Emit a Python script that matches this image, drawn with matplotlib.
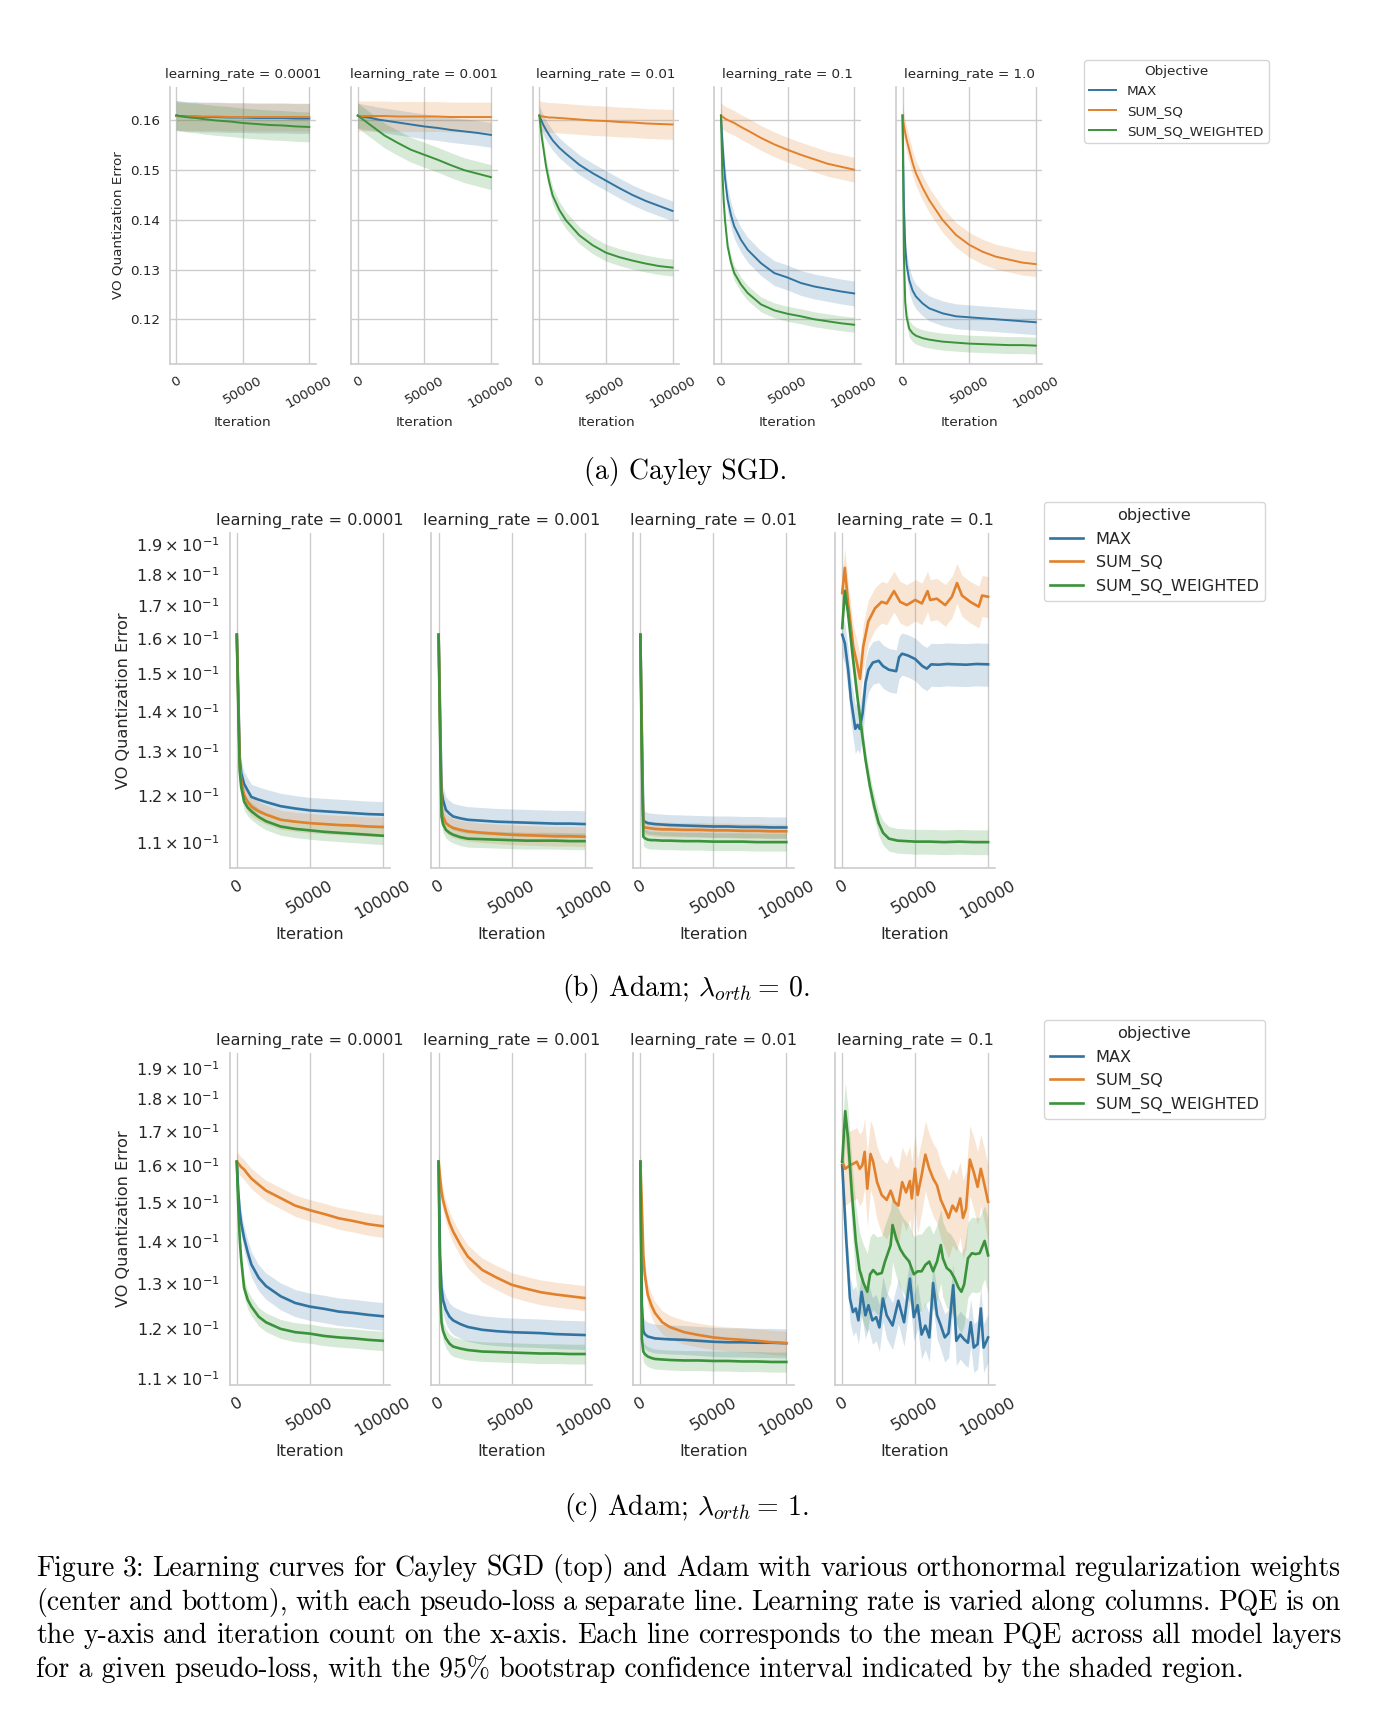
import matplotlib
matplotlib.use("Agg")
import matplotlib.pyplot as plt
from matplotlib.lines import Line2D
import numpy as np

ITERS = [0, 1000, 2000, 3000, 5000, 7500, 10000, 15000, 20000, 30000,
         40000, 50000, 60000, 70000, 80000, 90000, 100000]

OBJECTIVES = ['MAX', 'SUM_SQ', 'SUM_SQ_WEIGHTED']
COLORS = ['#3274a1', '#e1812c', '#3a923a']
LR_SGD = ['0.0001', '0.001', '0.01', '0.1', '1.0']
LR_ADAM = ['0.0001', '0.001', '0.01', '0.1']
X_TICKS = [0, 50000, 100000]

# ---- (a) Cayley SGD ----
SGD_LR1E4_MAX = [0.1610, 0.1610, 0.1609, 0.1609, 0.1609, 0.1608, 0.1608, 0.1608, 0.1607, 0.1607, 0.1606, 0.1606, 0.1605, 0.1605, 0.1605, 0.1604, 0.1604]
SGD_LR1E4_SQ = [0.1609, 0.1609, 0.1608, 0.1608, 0.1608, 0.1608, 0.1608, 0.1608, 0.1608, 0.1608, 0.1607, 0.1607, 0.1607, 0.1607, 0.1607, 0.1607, 0.1607]
SGD_LR1E4_W = [0.1610, 0.1610, 0.1609, 0.1609, 0.1608, 0.1607, 0.1606, 0.1605, 0.1603, 0.1600, 0.1598, 0.1595, 0.1593, 0.1591, 0.1590, 0.1588, 0.1587]
SGD_LR1E4_CI = [0.0030, 0.0028, 0.0030]

SGD_LR1E3_MAX = [0.1610, 0.1609, 0.1609, 0.1608, 0.1607, 0.1606, 0.1605, 0.1602, 0.1600, 0.1596, 0.1592, 0.1588, 0.1585, 0.1581, 0.1578, 0.1575, 0.1571]
SGD_LR1E3_SQ = [0.1609, 0.1609, 0.1609, 0.1609, 0.1609, 0.1609, 0.1609, 0.1609, 0.1609, 0.1608, 0.1608, 0.1608, 0.1608, 0.1607, 0.1607, 0.1607, 0.1607]
SGD_LR1E3_W = [0.1610, 0.1608, 0.1606, 0.1604, 0.1600, 0.1595, 0.1590, 0.1580, 0.1570, 0.1555, 0.1541, 0.1531, 0.1521, 0.1510, 0.1500, 0.1493, 0.1486]
SGD_LR1E3_CI = [0.0025, 0.0030, 0.0025]

SGD_LR1E2_MAX = [0.1610, 0.1603, 0.1597, 0.1591, 0.1581, 0.1570, 0.1560, 0.1545, 0.1533, 0.1511, 0.1494, 0.1479, 0.1464, 0.1450, 0.1438, 0.1428, 0.1418]
SGD_LR1E2_SQ = [0.1610, 0.1609, 0.1608, 0.1608, 0.1607, 0.1606, 0.1606, 0.1605, 0.1604, 0.1602, 0.1600, 0.1599, 0.1597, 0.1596, 0.1594, 0.1593, 0.1592]
SGD_LR1E2_W = [0.1610, 0.1585, 0.1563, 0.1545, 0.1508, 0.1475, 0.1449, 0.1420, 0.1399, 0.1369, 0.1349, 0.1334, 0.1325, 0.1318, 0.1312, 0.1307, 0.1304]
SGD_LR1E2_CI = [0.0020, 0.0030, 0.0017]

SGD_LR1E1_MAX = [0.1610, 0.1560, 0.1520, 0.1485, 0.1441, 0.1410, 0.1387, 0.1360, 0.1340, 0.1313, 0.1293, 0.1284, 0.1273, 0.1266, 0.1261, 0.1256, 0.1252]
SGD_LR1E1_SQ = [0.1610, 0.1608, 0.1606, 0.1604, 0.1601, 0.1598, 0.1595, 0.1587, 0.1580, 0.1565, 0.1552, 0.1541, 0.1531, 0.1522, 0.1513, 0.1507, 0.1501]
SGD_LR1E1_W = [0.1610, 0.1500, 0.1441, 0.1400, 0.1347, 0.1315, 0.1293, 0.1270, 0.1253, 0.1230, 0.1218, 0.1211, 0.1206, 0.1200, 0.1196, 0.1192, 0.1189]
SGD_LR1E1_CI = [0.0025, 0.0025, 0.0015]

SGD_LR1_MAX = [0.1610, 0.1430, 0.1347, 0.1310, 0.1279, 0.1258, 0.1246, 0.1232, 0.1222, 0.1212, 0.1206, 0.1204, 0.1202, 0.1200, 0.1198, 0.1196, 0.1194]
SGD_LR1_SQ = [0.1610, 0.1590, 0.1575, 0.1562, 0.1541, 0.1515, 0.1494, 0.1465, 0.1440, 0.1400, 0.1370, 0.1350, 0.1336, 0.1326, 0.1320, 0.1314, 0.1311]
SGD_LR1_W = [0.1610, 0.1330, 0.1234, 0.1205, 0.1181, 0.1172, 0.1167, 0.1162, 0.1159, 0.1155, 0.1153, 0.1151, 0.1150, 0.1149, 0.1148, 0.1148, 0.1147]
SGD_LR1_CI = [0.0025, 0.0025, 0.0017]

# ---- (b) Adam, lambda_orth = 0 ----
A0_LR1E4_MAX = [0.1610, 0.1450, 0.1285, 0.1250, 0.1225, 0.1210, 0.1196, 0.1190, 0.1185, 0.1176, 0.1171, 0.1167, 0.1165, 0.1163, 0.1161, 0.1159, 0.1158]
A0_LR1E4_SQ = [0.1610, 0.1430, 0.1270, 0.1232, 0.1200, 0.1185, 0.1175, 0.1165, 0.1158, 0.1147, 0.1143, 0.1140, 0.1138, 0.1136, 0.1135, 0.1133, 0.1132]
A0_LR1E4_W = [0.1610, 0.1410, 0.1255, 0.1218, 0.1186, 0.1173, 0.1165, 0.1153, 0.1144, 0.1133, 0.1128, 0.1125, 0.1122, 0.1120, 0.1118, 0.1116, 0.1114]
A0_LR1E4_CI = [0.0028, 0.0020, 0.0018]

A0_LR1E3_MAX = [0.1610, 0.1400, 0.1210, 0.1190, 0.1168, 0.1160, 0.1154, 0.1150, 0.1147, 0.1145, 0.1143, 0.1142, 0.1141, 0.1140, 0.1139, 0.1139, 0.1138]
A0_LR1E3_SQ = [0.1610, 0.1370, 0.1175, 0.1155, 0.1140, 0.1134, 0.1130, 0.1126, 0.1123, 0.1120, 0.1118, 0.1116, 0.1115, 0.1114, 0.1113, 0.1113, 0.1112]
A0_LR1E3_W = [0.1610, 0.1340, 0.1154, 0.1138, 0.1126, 0.1120, 0.1116, 0.1111, 0.1108, 0.1107, 0.1106, 0.1105, 0.1104, 0.1104, 0.1104, 0.1103, 0.1103]
A0_LR1E3_CI = [0.0028, 0.0020, 0.0017]

A0_LR1E2_MAX = [0.1610, 0.1350, 0.1147, 0.1143, 0.1140, 0.1139, 0.1138, 0.1137, 0.1136, 0.1135, 0.1134, 0.1133, 0.1133, 0.1132, 0.1132, 0.1131, 0.1131]
A0_LR1E2_SQ = [0.1610, 0.1320, 0.1133, 0.1131, 0.1130, 0.1129, 0.1128, 0.1127, 0.1127, 0.1126, 0.1126, 0.1125, 0.1125, 0.1124, 0.1124, 0.1123, 0.1123]
A0_LR1E2_W = [0.1610, 0.1280, 0.1112, 0.1109, 0.1106, 0.1105, 0.1105, 0.1104, 0.1104, 0.1103, 0.1103, 0.1102, 0.1102, 0.1102, 0.1101, 0.1101, 0.1101]
A0_LR1E2_CI = [0.0022, 0.0015, 0.0018]

A0_LR1E1_MAX_X = [0, 1800, 4100, 6000, 9000, 10500, 12000, 14000, 16000, 18000, 21000, 25000, 28000, 32000,
                  37000, 39000, 41000, 45000, 50000, 55000, 58000, 61000, 66000, 72000, 78000, 85000, 92000, 100000]
A0_LR1E1_MAX = [0.1610, 0.1585, 0.1510, 0.1430, 0.1355, 0.1365, 0.1355, 0.1395, 0.1475, 0.1510, 0.1530, 0.1535, 0.1520, 0.1510,
                0.1506, 0.1545, 0.1555, 0.1550, 0.1540, 0.1520, 0.1513, 0.1525, 0.1524, 0.1526, 0.1525, 0.1524, 0.1526, 0.1525]
A0_LR1E1_SQ_X = [0, 1800, 4100, 7600, 10000, 12200, 14400, 17900, 22500, 27000, 30500, 35500, 39700, 44300,
                 50000, 54600, 58500, 60300, 64900, 70600, 75200, 78700, 82100, 87800, 93600, 95900, 100000]
A0_LR1E1_SQ = [0.1738, 0.1820, 0.1705, 0.1575, 0.1530, 0.1485, 0.1575, 0.1650, 0.1690, 0.1710, 0.1705, 0.1744, 0.1710, 0.1700,
               0.1716, 0.1705, 0.1744, 0.1716, 0.1720, 0.1700, 0.1726, 0.1770, 0.1730, 0.1710, 0.1695, 0.1730, 0.1726]
A0_LR1E1_W_X = [0, 1800, 4000, 7000, 10000, 13000, 16000, 19000, 22000, 25000, 28000, 32000, 38000,
                50000, 60000, 70000, 80000, 90000, 100000]
A0_LR1E1_W = [0.1630, 0.1745, 0.1675, 0.1555, 0.1450, 0.1360, 0.1280, 0.1220, 0.1175, 0.1140, 0.1120, 0.1108, 0.1104,
              0.1102, 0.1102, 0.1101, 0.1102, 0.1101, 0.1101]
A0_LR1E1_CI = [0.0060, 0.0065, 0.0025]

# ---- (c) Adam, lambda_orth = 1 ----
A1_LR1E4_MAX = [0.1610, 0.1527, 0.1475, 0.1445, 0.1407, 0.1372, 0.1343, 0.1312, 0.1293, 0.1270, 0.1255, 0.1247, 0.1242, 0.1236, 0.1233, 0.1229, 0.1226]
A1_LR1E4_SQ = [0.1610, 0.1605, 0.1600, 0.1595, 0.1588, 0.1575, 0.1563, 0.1546, 0.1530, 0.1510, 0.1490, 0.1478, 0.1468, 0.1457, 0.1450, 0.1442, 0.1437]
A1_LR1E4_W = [0.1610, 0.1490, 0.1407, 0.1355, 0.1289, 0.1262, 0.1247, 0.1225, 0.1213, 0.1199, 0.1192, 0.1189, 0.1184, 0.1181, 0.1179, 0.1176, 0.1174]
A1_LR1E4_CI = [0.0030, 0.0028, 0.0020]

A1_LR1E3_MAX = [0.1610, 0.1366, 0.1289, 0.1262, 0.1240, 0.1225, 0.1217, 0.1209, 0.1203, 0.1197, 0.1194, 0.1192, 0.1191, 0.1190, 0.1188, 0.1187, 0.1186]
A1_LR1E3_SQ = [0.1610, 0.1565, 0.1527, 0.1505, 0.1475, 0.1445, 0.1423, 0.1390, 0.1362, 0.1330, 0.1312, 0.1296, 0.1287, 0.1279, 0.1274, 0.1270, 0.1266]
A1_LR1E3_W = [0.1610, 0.1289, 0.1213, 0.1195, 0.1179, 0.1168, 0.1162, 0.1158, 0.1155, 0.1152, 0.1151, 0.1150, 0.1149, 0.1148, 0.1148, 0.1147, 0.1147]
A1_LR1E3_CI = [0.0030, 0.0028, 0.0020]

A1_LR1E2_MAX = [0.1610, 0.1251, 0.1195, 0.1188, 0.1183, 0.1181, 0.1179, 0.1178, 0.1177, 0.1176, 0.1174, 0.1172, 0.1171, 0.1171, 0.1170, 0.1170, 0.1169]
A1_LR1E2_SQ = [0.1610, 0.1490, 0.1366, 0.1320, 0.1274, 0.1250, 0.1233, 0.1213, 0.1203, 0.1192, 0.1186, 0.1181, 0.1178, 0.1176, 0.1174, 0.1171, 0.1169]
A1_LR1E2_W = [0.1610, 0.1179, 0.1152, 0.1147, 0.1142, 0.1139, 0.1137, 0.1136, 0.1135, 0.1134, 0.1134, 0.1133, 0.1133, 0.1132, 0.1132, 0.1131, 0.1131]
A1_LR1E2_CI = [0.0030, 0.0025, 0.0020]

A1_LR1E1_MAX_X = [0, 2700, 5300, 7400, 9300, 11100, 13300, 15900, 18000, 20700, 23300, 25500, 27900, 30500, 34500,
                  38500, 42400, 46400, 49100, 51700, 54400, 57000, 59700, 62300, 65000, 67600, 70300, 72900, 76100,
                  78200, 80900, 83600, 86200, 88100, 90200, 92800, 95000, 96900, 100000]
A1_LR1E1_MAX = [0.1600, 0.1407, 0.1265, 0.1235, 0.1243, 0.1217, 0.1280, 0.1228, 0.1250, 0.1217, 0.1224, 0.1202, 0.1265, 0.1228, 0.1206,
                0.1260, 0.1213, 0.1310, 0.1224, 0.1250, 0.1187, 0.1206, 0.1181, 0.1300, 0.1228, 0.1206, 0.1181, 0.1190, 0.1295,
                0.1174, 0.1187, 0.1177, 0.1170, 0.1213, 0.1160, 0.1167, 0.1243, 0.1160, 0.1181]
A1_LR1E1_SQ_X = [0, 2100, 5300, 8000, 10000, 12000, 13800, 15400, 17200, 19400, 21200, 23900, 27100, 30500,
                 33200, 35800, 38500, 41100, 43800, 46400, 47700, 49900, 51700, 54400, 57000, 59700, 62300, 65000,
                 67600, 70300, 72900, 75600, 78200, 80900, 82800, 84900, 87500, 90200, 92800, 95000, 97600, 100000]
A1_LR1E1_SQ = [0.1610, 0.1590, 0.1600, 0.1605, 0.1610, 0.1590, 0.1600, 0.1638, 0.1535, 0.1632, 0.1610, 0.1553, 0.1518, 0.1505,
               0.1530, 0.1500, 0.1490, 0.1553, 0.1525, 0.1556, 0.1509, 0.1590, 0.1518, 0.1571, 0.1630, 0.1590, 0.1563, 0.1544,
               0.1505, 0.1482, 0.1458, 0.1490, 0.1475, 0.1509, 0.1458, 0.1482, 0.1616, 0.1580, 0.1540, 0.1590, 0.1544, 0.1500]
A1_LR1E1_W_X = [0, 2100, 4000, 6600, 9300, 11900, 14600, 17200, 19100, 21200, 23900, 27100, 29300, 31300,
                33200, 34500, 37100, 39800, 42400, 45900, 49100, 51700, 54400, 57000, 59700, 62300, 65000, 67600,
                69000, 71600, 74300, 77000, 79600, 81700, 83600, 86200, 88900, 91500, 94200, 97600, 100000]
A1_LR1E1_W = [0.1610, 0.1760, 0.1677, 0.1525, 0.1400, 0.1330, 0.1300, 0.1280, 0.1320, 0.1330, 0.1320, 0.1323, 0.1350, 0.1370,
              0.1390, 0.1440, 0.1405, 0.1380, 0.1365, 0.1350, 0.1320, 0.1327, 0.1327, 0.1342, 0.1350, 0.1327, 0.1350, 0.1390,
              0.1358, 0.1335, 0.1327, 0.1311, 0.1290, 0.1280, 0.1297, 0.1358, 0.1370, 0.1368, 0.1370, 0.1400, 0.1365]
A1_LR1E1_CI = [0.0050, 0.0100, 0.0090]

CAPTION = [
    "Figure 3: Learning curves for Cayley SGD (top) and Adam with various orthonormal regularization weights",
    "(center and bottom), with each pseudo-loss a separate line. Learning rate is varied along columns. PQE is on",
    "the y-axis and iteration count on the x-axis. Each line corresponds to the mean PQE across all model layers",
    "for a given pseudo-loss, with the 95% bootstrap confidence interval indicated by the shaded region.",
]

# panels: list of (series[(x, y)...], ci)
SGD_PANELS = [
    ([(ITERS, SGD_LR1E4_MAX), (ITERS, SGD_LR1E4_SQ), (ITERS, SGD_LR1E4_W)], SGD_LR1E4_CI),
    ([(ITERS, SGD_LR1E3_MAX), (ITERS, SGD_LR1E3_SQ), (ITERS, SGD_LR1E3_W)], SGD_LR1E3_CI),
    ([(ITERS, SGD_LR1E2_MAX), (ITERS, SGD_LR1E2_SQ), (ITERS, SGD_LR1E2_W)], SGD_LR1E2_CI),
    ([(ITERS, SGD_LR1E1_MAX), (ITERS, SGD_LR1E1_SQ), (ITERS, SGD_LR1E1_W)], SGD_LR1E1_CI),
    ([(ITERS, SGD_LR1_MAX), (ITERS, SGD_LR1_SQ), (ITERS, SGD_LR1_W)], SGD_LR1_CI),
]
ADAM0_PANELS = [
    ([(ITERS, A0_LR1E4_MAX), (ITERS, A0_LR1E4_SQ), (ITERS, A0_LR1E4_W)], A0_LR1E4_CI),
    ([(ITERS, A0_LR1E3_MAX), (ITERS, A0_LR1E3_SQ), (ITERS, A0_LR1E3_W)], A0_LR1E3_CI),
    ([(ITERS, A0_LR1E2_MAX), (ITERS, A0_LR1E2_SQ), (ITERS, A0_LR1E2_W)], A0_LR1E2_CI),
    ([(A0_LR1E1_MAX_X, A0_LR1E1_MAX), (A0_LR1E1_SQ_X, A0_LR1E1_SQ), (A0_LR1E1_W_X, A0_LR1E1_W)], A0_LR1E1_CI),
]
ADAM1_PANELS = [
    ([(ITERS, A1_LR1E4_MAX), (ITERS, A1_LR1E4_SQ), (ITERS, A1_LR1E4_W)], A1_LR1E4_CI),
    ([(ITERS, A1_LR1E3_MAX), (ITERS, A1_LR1E3_SQ), (ITERS, A1_LR1E3_W)], A1_LR1E3_CI),
    ([(ITERS, A1_LR1E2_MAX), (ITERS, A1_LR1E2_SQ), (ITERS, A1_LR1E2_W)], A1_LR1E2_CI),
    ([(A1_LR1E1_MAX_X, A1_LR1E1_MAX), (A1_LR1E1_SQ_X, A1_LR1E1_SQ), (A1_LR1E1_W_X, A1_LR1E1_W)], A1_LR1E1_CI),
]

W, H = 1388, 1720
fig = plt.figure(figsize=(W / 100, H / 100), dpi=100)
TXT = '.15'


def box(left, top, width, height):
    return [left / W, 1 - (top + height) / H, width / W, height / H]


def draw_row(panels, lrs, left0, step, width, top, height, fs, lw, logy, ylim):
    axes = []
    for i, ((series, ci), lr) in enumerate(zip(panels, lrs)):
        ax = fig.add_axes(box(left0 + i * step, top, width, height))
        for (x, y), c, h in zip(series, COLORS, ci):
            y = np.asarray(y)
            ax.fill_between(x, y - h, y + h, color=c, alpha=0.2, lw=0)
            ax.plot(x, y, color=c, lw=lw)
        if logy:
            ax.set_yscale('log')
        ax.set_ylim(*ylim)
        ax.set_xlim(-5000, 105000)
        ax.set_xticks(X_TICKS)
        for s in ('top', 'right'):
            ax.spines[s].set_visible(False)
        for s in ('left', 'bottom'):
            ax.spines[s].set_color('.8')
            ax.spines[s].set_linewidth(1.2)
        ax.grid(True, color='.8', lw=1)
        ax.set_axisbelow(True)
        ax.tick_params(which='both', length=0, labelsize=fs, colors=TXT, pad=7)
        for t in ax.get_xticklabels():
            t.set_rotation(30)
        ax.set_xlabel('Iteration', fontsize=fs, color=TXT)
        ax.set_title(f'learning_rate = {lr}', fontsize=fs, color=TXT)
        if i == 0:
            ax.set_ylabel('VO Quantization Error', fontsize=fs, color=TXT)
        else:
            ax.tick_params(which='both', labelleft=False)
        axes.append(ax)
    return axes


def add_legend(x, y, title, fs, lw):
    handles = [Line2D([], [], color=c, lw=lw) for c in COLORS]
    leg = fig.legend(handles, OBJECTIVES, title=title, loc='upper left',
                     bbox_to_anchor=(x / W, 1 - y / H), borderaxespad=0,
                     fontsize=fs, title_fontsize=fs, edgecolor='.8', framealpha=0.8)
    for t in leg.get_texts():
        t.set_color(TXT)
    leg.get_title().set_color(TXT)


FS_A, FS_B = 9.7, 11.6
draw_row(SGD_PANELS, LR_SGD, 169.5, 181.6, 146.5, 86.7, 277.3, FS_A, 1.4, False, (0.111, 0.1668))
add_legend(1084, 60, 'Objective', FS_A, 1.4)

draw_row(ADAM0_PANELS, LR_ADAM, 229.5, 201.8, 160.5, 533, 335, FS_B, 1.9, True, (0.105, 0.194))
add_legend(1044, 502, 'objective', FS_B, 1.9)

draw_row(ADAM1_PANELS, LR_ADAM, 229.5, 201.8, 160.5, 1053, 332, FS_B, 1.9, True, (0.1086, 0.195))
add_legend(1044, 1020, 'objective', FS_B, 1.9)

CAP_FS = 20
cap_kw = dict(family='cmr10', fontsize=CAP_FS, color='black', math_fontfamily='cm')
fig.text(686 / W, 1 - 472 / H, '(a) Cayley SGD.', ha='center', va='center', **cap_kw)
fig.text(686 / W, 1 - 989 / H, r'(b) Adam; $\lambda_{orth} =\, 0$.', ha='center', va='center', **cap_kw)
fig.text(686 / W, 1 - 1507 / H, r'(c) Adam; $\lambda_{orth} =\, 1$.', ha='center', va='center', **cap_kw)

# justified figure caption
renderer = fig.canvas.get_renderer()
x0, x1 = 36 / W, 1341 / W
for i, line in enumerate(CAPTION):
    y = 1 - (1576 + i * 33.6) / H
    if i == len(CAPTION) - 1:
        fig.text(x0, y, line, ha='left', va='baseline', **cap_kw)
        continue
    words = line.split(' ')
    arts = [fig.text(0, y, w_, ha='left', va='baseline', **cap_kw) for w_ in words]
    widths = [a.get_window_extent(renderer).width / W for a in arts]
    gap = (x1 - x0 - sum(widths)) / (len(words) - 1)
    xx = x0
    for a, wd in zip(arts, widths):
        a.set_x(xx)
        xx += wd + gap

fig.savefig('out.png', dpi=100)
